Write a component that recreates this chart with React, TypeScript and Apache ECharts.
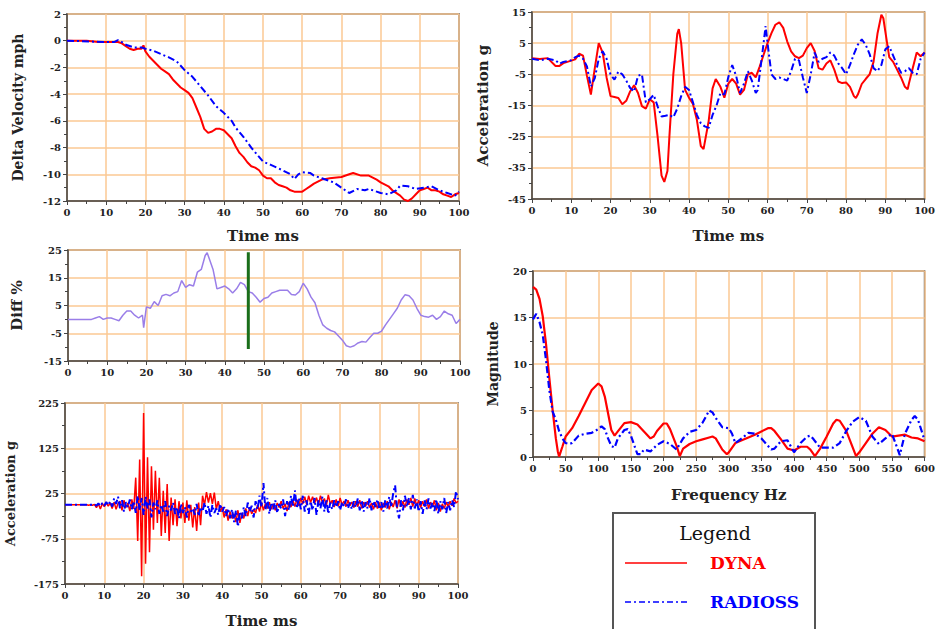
import React, { useEffect, useRef } from "react";
import * as echarts from "echarts";

// ---------- Panel 1: Delta Velocity (mph) vs Time (ms) ----------
const dvDyna: number[][] = [
  [0, 0], [5, 0], [8, -0.1], [10, -0.1], [13, -0.1], [14, -0.2], [15, -0.4], [16, -0.6], [17, -0.7], [18, -0.6],
  [19, -0.6], [19.5, -0.35], [20, -0.8], [21, -1.2], [22, -1.5], [23, -1.8], [24, -2.1], [25, -2.3], [26, -2.5],
  [27, -2.9], [28, -3.2], [29, -3.5], [30, -3.7], [31, -3.9], [32, -4.3], [33, -5.0], [34, -5.7], [35, -6.6],
  [36, -6.9], [37, -6.8], [38, -6.6], [39, -6.6], [40, -6.7], [41, -7.0], [42, -7.3], [43, -7.9], [44, -8.4],
  [45, -8.7], [46, -9.1], [47, -9.4], [48, -9.5], [49, -9.7], [50, -10.1], [51, -10.3], [52, -10.3], [53, -10.6],
  [54, -10.8], [55, -10.9], [56, -11.0], [57, -11.2], [58, -11.3], [60, -11.3], [61, -11.1], [62, -10.9],
  [63, -10.7], [65, -10.4], [67, -10.3], [70, -10.2], [72, -10.0], [73, -9.9], [75, -10.1], [77, -10.1],
  [79, -10.4], [80, -10.6], [82, -10.9], [83, -11.2], [85, -11.6], [86, -11.9], [87, -12.0], [88, -11.8],
  [89, -11.5], [90, -11.2], [91, -11.1], [92, -11.0], [93, -11.2], [94, -11.2], [95, -11.3], [96, -11.5],
  [97, -11.6], [98, -11.7], [99, -11.5], [100, -11.4],
];
const dvRadioss: number[][] = [
  [0, 0], [10, -0.1], [12, -0.1], [13, 0.05], [14, -0.1], [15, -0.3], [17, -0.5], [19, -0.5], [20, -0.6],
  [22, -0.75], [24, -1.0], [26, -1.25], [28, -1.55], [30, -2.2], [32, -2.7], [34, -3.4], [36, -4.1], [38, -4.9],
  [40, -5.4], [42, -6.0], [43, -6.5], [45, -7.2], [47, -8.0], [49, -8.7], [50, -9.05], [52, -9.3], [55, -9.7],
  [57, -10.0], [58, -10.35], [59, -10.0], [60, -9.85], [62, -9.9], [63, -10.1], [65, -10.3], [68, -10.6],
  [70, -11.0], [72, -11.4], [74, -11.1], [76, -11.2], [77, -11.1], [79, -11.3], [80, -11.4], [82, -11.5],
  [84, -11.2], [85, -10.85], [87, -10.9], [89, -11.1], [91, -11.0], [93, -10.9], [95, -11.2], [97, -11.4],
  [99, -11.6], [100, -11.3],
];

// ---------- Panel 2: filtered Acceleration (g) vs Time (ms) ----------
const accDyna: number[][] = [
  [0, 0.2], [2, -0.1], [4, 0.2], [6, -2.3], [7, -2.3], [8, -1.4], [10, -0.6], [11, -0.2], [12, 1.6], [13, 1.0],
  [14, -5.5], [15, -11.5], [16, -3], [17, 5], [18, 2], [19, -6], [20, -12], [21, -12.3], [22, -12.6], [23, -14.6],
  [24, -13.5], [25, -10.5], [26, -8.5], [27, -11], [28, -15.2], [29, -16], [30, -13], [31, -14], [32, -25],
  [33, -37.5], [33.7, -39.5], [34.5, -36], [35, -25], [36, -5], [37, 8], [37.4, 9.5], [38, 5], [39, -10],
  [40, -12.5], [41, -14.5], [42, -19.6], [43, -28], [43.7, -29], [45, -20], [46, -9.5], [46.8, -6.5], [48, -9],
  [49, -12.5], [50, -8], [51, -6.5], [52, -8], [53, -11.5], [54, -10], [55, -5], [56, -4.5], [57, -6], [58, -2.5],
  [59, 1.3], [60, 5], [61, 8.2], [62, 10.9], [63, 11.7], [64, 9.9], [65, 5.6], [66, 2.4], [67, 0.8], [68, 0.2],
  [69, 1], [70, 3.4], [71, 5], [72, 2.5], [73, -3], [74, -3.5], [75, -1.5], [76, -0.5], [77, -3.5], [78, -7.3],
  [79, -7.8], [80, -7.6], [81, -9], [82, -12], [82.5, -12.6], [83, -11.5], [84, -8.1], [85, -6.5], [86, -5],
  [87, -1], [88, 8], [89, 14.1], [89.5, 13], [90, 8.8], [91, 0.5], [92, -1], [93, -3.5], [94, -6], [95, -9],
  [95.7, -9.8], [96, -8], [97, -3], [98, 2], [99, 0.8], [100, 2],
];
const accRadioss: number[][] = [
  [0, 0], [2, -0.5], [4, 0], [6, -0.5], [7, -1.6], [8, -1], [10, -0.5], [11, 0.5], [12, 1], [13, 0], [14, -2.5],
  [15, -8.9], [16, -6.2], [17, 0], [18, 2.4], [19, 0], [20, -5.1], [21, -6.7], [22, -4.1], [23, -5], [24, -7],
  [25, -9.4], [26, -10.5], [27, -5.5], [28, -5], [29, -14], [30, -13], [31, -11.6], [32, -15.3], [33, -18.5],
  [34, -18.3], [35, -18], [36, -18.8], [37, -16], [38, -12], [39, -9], [40, -10], [41, -14], [42, -18],
  [43, -20.7], [44, -21.7], [45, -22.2], [46, -18], [47, -15], [48, -11], [49, -11.5], [50, -5.9], [51, -2],
  [52, -5.5], [53, -11], [54, -8], [55, -4], [56, -7], [57, -11], [57.5, -10], [58, -5], [59, 5], [59.5, 10.5],
  [60, 5], [61, -5], [62, -6.5], [63, -6], [64, -6.5], [65, -7], [66, -4], [67, 0], [68, -0.5], [69, -6],
  [70, -11], [71, -5], [72, 2], [73, -1], [74, 0], [75, 0.5], [76, 2], [77, 1], [78, -1.5], [79, -3], [80, -5],
  [81, -2], [82, 1.5], [83, 4.5], [84, 6.2], [85, 4.5], [86, 1.5], [87, -3], [88, -4], [89, -2], [90, 3], [91, 4],
  [92, 1], [93, -2], [94, -4.5], [95, -4], [96, -3], [97, -4.5], [98, -5], [99, 0], [100, 2],
];

// ---------- Panel 3: Diff % vs Time (ms) ----------
const diffPct: number[][] = [
  [0, 0], [6, 0], [7, 0.5], [8, 1], [9, 0], [10, 0.5], [11, 0.5], [12, 0], [13, -0.5], [14, 1.5], [15, 3], [16, 3],
  [17, 1.5], [18, 0.5], [19, 1.5], [19.3, -3], [20, 4.5], [21, 4], [22, 6.4], [23, 5], [24, 8.5], [25, 9], [26, 8.5],
  [27, 9.5], [28, 10], [29, 14], [30, 11.5], [31, 12.5], [32, 12], [33, 17], [34, 18], [35, 23], [35.5, 24],
  [36, 22], [37, 18], [38, 11], [39, 11.5], [40, 12], [41, 11], [42, 9.5], [43, 11], [44, 13.3], [45, 12.5],
  [46, 10], [47, 9.5], [48, 8], [49, 6.2], [50, 7.5], [51, 8], [52, 9.5], [53, 10], [54, 10.5], [55, 10.5],
  [56, 10.5], [57, 9], [58, 8.8], [59, 10], [60, 13], [61, 11], [62, 8], [63, 6], [64, 1.5], [65, -2], [66, -3.2],
  [67, -4], [68, -4.5], [69, -6], [70, -7.5], [71, -9.5], [72, -10], [73, -9.5], [74, -8.5], [75, -8], [76, -8.2],
  [77, -6.5], [78, -5], [79, -5], [80, -4.2], [81, -2], [82, 0], [83, 2], [84, 4], [85, 7], [86, 8.9], [87, 8.5],
  [88, 7], [89, 4], [90, 1.5], [91, 1], [92, 0.8], [93, 1.5], [94, 0], [95, 1], [96, 3], [97, 2], [98, 1.5],
  [99, -1.5], [100, 0],
];
const diffMarker: number[][] = [[46, 24.2], [46, -10.7]];

// ---------- Panel 4: raw Acceleration (g), one value every 0.5 ms ----------
const RAW_STEP = 0.5;
const rawDyna: number[] = [
  0, 0, 0, 0, 0, 0, 0, 0, 0, 0, 0, 0, -1, 0, -1, 1, -6, 2, -9, 3,
  -4, 5, -3, 4, -8, 6, -10, 3, 8, -12, 10, -6, 4, -14, 12, -9, 60, -80, 100, -158,
  203, -130, 105, -105, 85, -55, 75, -40, 60, -69, 31, -62, 46, -80, 16, -45, 12, -47, 8, -30,
  5, -40, 10, -35, 0, -50, -5, -58, 5, -45, 20, 0, 28, 5, 26, 2, 27, -10, 8, -15,
  -5, -28, -10, -35, -15, -30, -20, -38, -12, -40, -18, -30, -8, -25, -5, -20, -10, -18, 0, -15,
  5, -12, 3, -8, 6, -10, 2, -12, 4, -6, 8, -8, 2, -14, 6, -5, 10, -4, 12, -2,
  15, 2, 18, 0, 20, 5, 18, 3, 16, 0, 20, 5, 14, -2, 22, 2, 10, -5, 12, -3,
  15, 0, 8, -4, 10, -2, 6, -6, 8, -4, 10, -8, 6, -3, 8, -6, 4, -10, 6, -8,
  5, -12, 4, -6, 8, -10, 6, -5, 10, -8, 12, -4, 8, -6, 12, 0, 15, -4, 14, -2,
  10, -6, 8, -4, 12, -8, 6, -5, 10, -12, 4, -15, 2, -8, 6, -4, 8, -2, 14, 4,
  8,
];
const rawRadioss: number[] = [
  0, 0, 0, 0, 0, 0, 0, 0, 0, 0, 0, 0, 0, 0, 0, 1, -2, 3, -3, 4,
  -2, 6, -1, 8, -4, 14, 2, 18, -8, 10, -15, 6, -5, 12, -10, 8, -18, 20, -12, 15,
  -22, 18, -8, 12, -28, 5, -10, 10, -20, 0, -15, 8, -25, -2, -12, 5, -20, -5, -30, 2,
  -18, -5, -28, 0, -15, -8, -22, 2, -25, -5, -15, 5, -20, -2, -28, 0, -18, -8, -22, 2,
  -15, -5, -25, -8, -30, -10, -38, -12, -48, -15, -30, -5, -25, 5, -15, -2, -28, 8, -10, 20,
  -5, 48, -12, 15, -20, 5, -10, 10, -18, 2, -8, 12, -25, 8, -12, 20, -5, 32, -8, 15,
  -10, 20, -15, 10, -20, 8, -12, 15, -22, 10, -8, 18, -15, 12, -20, 5, -10, 10, -5, 8,
  -12, 6, -4, 12, -8, 5, -10, 8, -6, 14, -12, 10, -15, 6, -8, 15, -12, 8, -5, 12,
  -10, 6, -15, 10, -8, 18, -5, 25, 43, -10, -30, 10, -12, 20, -5, 15, -10, 22, -8, 12,
  -15, 8, -20, 10, -10, 14, -8, 5, -14, 12, -20, 8, -10, 15, -18, 6, -12, 10, -5, 30,
  12,
];

// ---------- Panel 5: Magnitude vs Frequency (Hz) ----------
const fftDyna: number[][] = [
  [0, 18.3], [5, 18], [10, 17], [15, 15.1], [20, 12.1], [25, 8.5], [30, 5.1], [35, 2], [38, 0.6], [40, 0.05],
  [45, 1.1], [50, 2.2], [60, 3.1], [70, 4.4], [80, 5.8], [90, 7.2], [100, 7.9], [105, 7.6], [110, 6.5], [115, 4.7],
  [120, 2.9], [125, 2.3], [130, 2.75], [140, 3.65], [150, 3.75], [160, 3.5], [170, 2.75], [180, 2.0], [185, 2.2],
  [190, 2.8], [200, 3.6], [205, 3.6], [210, 3.0], [220, 1.2], [225, 0.1], [230, 0.9], [240, 1.4], [250, 1.7],
  [260, 1.9], [270, 2.1], [275, 2.2], [280, 2.0], [290, 0.8], [297, 0.3], [300, 0.5], [310, 1.5], [320, 1.8],
  [330, 2.1], [340, 2.4], [350, 2.75], [360, 3.1], [365, 3.1], [370, 2.8], [380, 1.9], [390, 0.9], [400, 0.7],
  [410, 1.1], [420, 1.1], [425, 0.8], [432, 0.1], [440, 0.9], [450, 2.2], [460, 3.6], [465, 4.0], [470, 3.9],
  [480, 2.8], [490, 1.0], [495, 0.1], [500, 0.5], [510, 1.5], [520, 2.5], [530, 3.2], [540, 2.9], [550, 2.2],
  [560, 2.3], [570, 2.4], [580, 2.1], [590, 2.0], [600, 1.7],
];
const fftRadioss: number[][] = [
  [0, 14.8], [5, 15.4], [10, 14.5], [15, 13.1], [20, 10.4], [25, 7.2], [30, 4.9], [35, 4.0], [40, 2.8], [45, 2.0],
  [50, 1.5], [55, 1.4], [60, 1.5], [70, 2.3], [80, 2.5], [90, 2.6], [100, 3.0], [105, 3.3], [110, 3.0], [115, 2.0],
  [120, 1.2], [125, 1.0], [130, 2.0], [140, 2.9], [145, 3.0], [150, 2.3], [155, 1.3], [160, 0.3], [165, 0.3],
  [170, 0.8], [180, 0.6], [190, 1.3], [200, 1.7], [210, 1.4], [220, 0.8], [230, 2.0], [240, 2.7], [250, 2.9],
  [260, 3.7], [270, 5.0], [275, 4.8], [280, 4.2], [290, 3.2], [300, 3.1], [305, 2.5], [310, 1.5], [320, 2.0],
  [330, 2.6], [340, 2.5], [350, 2.0], [360, 1.2], [365, 0.8], [370, 0.9], [380, 1.7], [390, 1.8], [400, 0.5],
  [410, 1.5], [420, 2.2], [425, 2.3], [430, 1.9], [440, 1.0], [450, 1.0], [460, 1.0], [470, 1.5], [480, 2.8],
  [490, 3.8], [500, 4.3], [510, 3.9], [520, 2.2], [530, 1.4], [540, 2.0], [550, 2.5], [558, 1.0], [562, 0.2],
  [570, 2.5], [580, 4.0], [585, 4.4], [590, 4.0], [600, 1.8],
];

const legendItems = ["DYNA", "RADIOSS"];

const RED = "#ff0000";
const BLUE = "#0000ff";
const PURPLE = "#9a7ee8";
const GREEN = "#1a6e1a";
const GRIDC = "#fbc993";
const AXC = "#444444";
const SERIF = "'DejaVu Serif', 'Liberation Serif', serif";
const DASHDOT = [7, 3, 2, 3];

const shift = (pts: number[][], off: number) => pts.map(([x, y]) => [x, y + off]);
const rawPts = (vals: number[]) => vals.map((v, i) => [i * RAW_STEP, v]);

function xAx(gridIndex: number, max: number, interval: number, name: string, nameGap: number) {
  return {
    type: "value", gridIndex, min: 0, max, interval,
    axisLine: { show: true, onZero: false, lineStyle: { color: AXC, width: 1.5 } },
    axisTick: { show: true, length: 4, lineStyle: { color: AXC } },
    minorTick: { show: true, splitNumber: 2, length: 3, lineStyle: { color: AXC } },
    splitLine: { show: true, lineStyle: { color: GRIDC, width: 1.5 } },
    axisLabel: { fontFamily: SERIF, fontWeight: "bold", fontSize: 10, color: "#222", margin: 6 },
    name, nameLocation: "middle", nameGap,
    nameTextStyle: { fontFamily: SERIF, fontWeight: "bold", fontSize: 15, color: "#222" },
  };
}
function yAx(gridIndex: number, min: number, max: number, interval: number, off: number, name: string, nameGap: number, nameSize: number) {
  return {
    type: "value", gridIndex, min: min + off, max: max + off, interval,
    axisLine: { show: true, onZero: false, lineStyle: { color: AXC, width: 1.5 } },
    axisTick: { show: true, length: 4, lineStyle: { color: AXC } },
    minorTick: { show: true, splitNumber: 2, length: 3, lineStyle: { color: AXC } },
    splitLine: { show: true, lineStyle: { color: GRIDC, width: 1.5 } },
    axisLabel: {
      fontFamily: SERIF, fontWeight: "bold", fontSize: 10, color: "#222", margin: 6,
      formatter: (v: number) => String(Math.round(v - off)),
    },
    name, nameLocation: "middle", nameGap,
    nameTextStyle: { fontFamily: SERIF, fontWeight: "bold", fontSize: nameSize, color: "#222" },
  };
}
function line(xi: number, data: number[][], color: string, dashed: boolean, width = 2) {
  return {
    type: "line", xAxisIndex: xi, yAxisIndex: xi, data, symbol: "none", silent: true,
    lineStyle: { color, width, type: dashed ? DASHDOT : "solid" }, itemStyle: { color },
  };
}

export default function App() {
  const ref = useRef<HTMLDivElement>(null);
  useEffect(() => {
    const chart = echarts.init(ref.current!, null, { renderer: "svg" });
    const gridBox = { show: true, borderColor: AXC, borderWidth: 1.5, backgroundColor: "#fff", containLabel: false };
    chart.setOption({
      animation: false,
      backgroundColor: "#fff",
      grid: [
        { ...gridBox, left: 67, top: 14, width: 392, height: 187 },
        { ...gridBox, left: 532, top: 12, width: 393, height: 187 },
        { ...gridBox, left: 68, top: 250, width: 392, height: 111 },
        { ...gridBox, left: 65, top: 403, width: 393, height: 186 },
        { ...gridBox, left: 533, top: 271, width: 393, height: 186 },
      ],
      xAxis: [
        xAx(0, 100, 10, "Time ms", 27),
        xAx(1, 100, 10, "Time ms", 29),
        xAx(2, 100, 10, "", 20),
        xAx(3, 100, 10, "Time ms", 29),
        xAx(4, 600, 50, "Frequency Hz", 30),
      ],
      yAxis: [
        yAx(0, -12, 2, 2, 0, "Delta Velocity mph", 42, 14),
        yAx(1, -45, 15, 10, 45, "Acceleration g", 42, 15),
        yAx(2, -15, 25, 10, 15, "Diff %", 44, 15),
        yAx(3, -175, 225, 100, 175, "Acceleration g", 48, 13),
        yAx(4, 0, 20, 5, 0, "Magnitude", 33, 14),
      ],
      series: [
        line(0, dvDyna, RED, false),
        line(0, dvRadioss, BLUE, true),
        line(1, shift(accDyna, 45), RED, false),
        line(1, shift(accRadioss, 45), BLUE, true),
        line(2, shift(diffPct, 15), PURPLE, false, 1.5),
        line(2, shift(diffMarker, 15), GREEN, false, 3),
        line(3, shift(rawPts(rawDyna), 175), RED, false, 1.5),
        line(3, shift(rawPts(rawRadioss), 175), BLUE, true, 2),
        line(4, fftDyna, RED, false, 2.2),
        line(4, fftRadioss, BLUE, true, 2.2),
      ],
      graphic: [
        { type: "rect", shape: { x: 613, y: 513, width: 202, height: 130 }, style: { fill: "#fff", stroke: "#555", lineWidth: 2 } },
        { type: "text", x: 715, y: 533, style: { text: "Legend", font: `19px ${SERIF}`, fill: "#111", align: "center", verticalAlign: "middle" } },
        { type: "line", shape: { x1: 625, y1: 563, x2: 687, y2: 563 }, style: { stroke: RED, lineWidth: 1.5 } },
        { type: "text", x: 710, y: 563, style: { text: legendItems[0], font: `bold 17px ${SERIF}`, fill: RED, align: "left", verticalAlign: "middle" } },
        { type: "line", shape: { x1: 625, y1: 602, x2: 687, y2: 602 }, style: { stroke: BLUE, lineWidth: 1.5, lineDash: [6, 3, 2, 3] } },
        { type: "text", x: 710, y: 602, style: { text: legendItems[1], font: `bold 17px ${SERIF}`, fill: BLUE, align: "left", verticalAlign: "middle" } },
      ],
    });
    return () => chart.dispose();
  }, []);
  return <div ref={ref} style={{ position: "fixed", left: 0, top: 0, width: 938, height: 629, background: "#fff" }} />;
}
